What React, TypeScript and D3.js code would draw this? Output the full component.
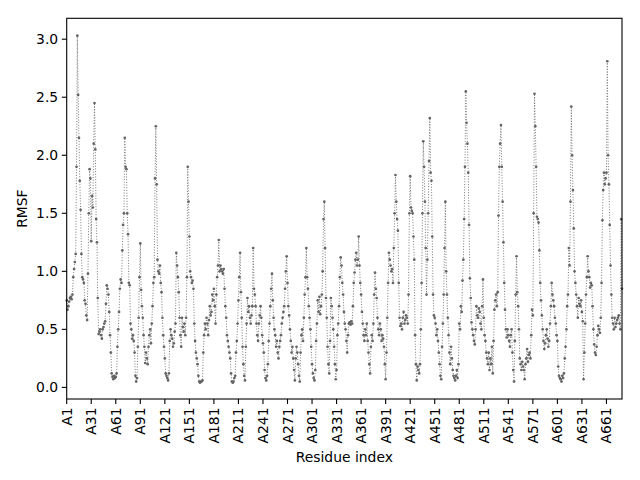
import React, { useRef, useEffect } from 'react';
import * as d3 from 'd3';

// RMSF per residue (A1 .. A680)
const rmsf: number[] = [
  0.75, 0.67, 0.70, 0.74, 0.77, 0.78, 0.76, 0.80, 0.95, 1.02, 1.08, 1.15, 1.90,
  3.03, 2.52, 2.15, 1.78, 1.53, 1.15, 0.95, 0.93, 0.90, 0.75, 0.72, 0.62, 0.58,
  0.98, 1.50, 1.88, 1.80, 1.26, 1.65, 1.55, 2.10, 2.45, 2.05, 1.45, 1.25, 0.77,
  0.46, 0.48, 0.50, 0.45, 0.42, 0.50, 0.52, 0.55, 0.57, 0.72, 0.88,
  0.85, 0.80, 0.65, 0.45, 0.30, 0.12, 0.09, 0.07, 0.10, 0.08, 0.09, 0.12,
  0.35, 0.50, 0.65, 0.85, 0.93, 0.90, 1.18, 1.40, 1.50, 2.15, 1.90, 1.88, 1.50, 1.32,
  0.90, 0.88, 0.55, 0.50, 0.42, 0.45, 0.40, 0.30, 0.10,
  0.05, 0.08, 0.35, 0.60, 0.95, 1.24, 0.84, 0.70, 0.60, 0.45, 0.35, 0.21, 0.30, 0.25, 0.20,
  0.35, 0.45, 0.50, 0.38, 0.55, 0.70, 0.90, 0.95, 1.80,
  2.25,
  1.75, 1.10, 1.00, 0.98, 1.05, 0.90, 0.82, 0.60,
  0.45, 0.35, 0.25, 0.12, 0.10, 0.08, 0.06, 0.12,
  0.40, 0.50, 0.45, 0.42, 0.35, 0.38, 0.48, 0.55,
  1.16, 1.05, 0.95, 0.82, 0.60, 0.45, 0.35,
  0.60, 0.52, 0.48, 0.55, 0.45, 0.60, 0.95,
  1.90,
  1.60, 1.30, 1.00, 0.95, 0.90, 0.92, 0.85,
  0.55, 0.40, 0.30, 0.25, 0.20, 0.10,
  0.05, 0.04, 0.05, 0.05, 0.06,
  0.30, 0.45, 0.55, 0.50, 0.60, 0.55, 0.45,
  0.58, 0.70, 0.62, 0.65, 0.80, 0.75, 0.85, 0.70, 0.55,
  0.80, 0.95, 1.05,
  1.27,
  1.00, 1.05, 1.02, 1.00, 0.98, 1.02, 0.85, 0.70,
  0.60, 0.45, 0.40, 0.35, 0.30, 0.25,
  0.12, 0.05, 0.04, 0.05, 0.08,
  0.10, 0.30, 0.40, 0.55, 0.75, 0.95,
  1.16,
  0.82, 0.60, 0.35, 0.20, 0.10, 0.06,
  0.35, 0.55, 0.77, 0.65, 0.70, 0.60, 0.55, 0.62, 0.70,
  1.20,
  0.85, 0.80, 0.70, 0.55, 0.45, 0.40, 0.55,
  0.62, 0.70, 0.60, 0.45, 0.38,
  0.30, 0.15, 0.08, 0.06, 0.10, 0.20,
  0.40, 0.55, 0.70, 0.85,
  0.98,
  0.75, 0.60, 0.50, 0.45, 0.35, 0.40, 0.30, 0.25, 0.35, 0.40, 0.45, 0.55,
  0.60, 0.65, 0.70, 0.85, 1.00,
  1.13,
  0.90, 0.70, 0.62, 0.50, 0.40, 0.30, 0.35, 0.25, 0.15,
  0.06,
  0.25, 0.35, 0.30, 0.20, 0.10, 0.05, 0.30, 0.45, 0.50, 0.40, 0.60, 0.80, 0.95,
  1.20,
  0.95, 0.85, 0.70, 0.60, 0.50, 0.35, 0.20,
  0.12, 0.08, 0.06, 0.15,
  0.40, 0.55, 0.75, 0.65, 0.78, 0.63, 0.70, 0.80, 1.00, 1.45,
  1.60,
  1.20, 0.77, 0.60, 0.35, 0.20, 0.12, 0.40,
  0.77, 0.70, 0.60, 0.50, 0.35, 0.20, 0.07, 0.15, 0.45, 0.55, 0.70, 0.95,
  1.12,
  1.05, 0.90, 0.80, 0.65, 0.55, 0.50,
  0.40, 0.30, 0.45, 0.55, 0.56, 0.54, 0.57, 0.55, 0.70,
  0.90, 0.99, 1.10, 1.16, 1.05, 1.10,
  1.30,
  1.05, 0.90, 0.80, 0.65, 0.55, 0.45, 0.40, 0.50, 0.45,
  0.55, 0.40, 0.30, 0.20, 0.12,
  0.35, 0.45, 0.40, 0.55, 0.80,
  0.99,
  0.85, 0.77, 0.60, 0.50, 0.45, 0.55,
  0.50, 0.40, 0.45, 0.42, 0.35, 0.20, 0.07,
  0.30, 0.60, 0.90,
  1.16,
  1.10, 1.05, 1.00, 1.02, 0.90, 1.20, 1.50,
  1.83,
  1.60, 1.45, 1.35, 0.90, 0.60,
  0.53, 0.55, 0.50,
  0.60, 0.65, 0.55, 0.58, 0.62, 0.60, 0.55, 0.80, 1.50,
  1.82,
  1.55, 1.52, 1.50, 1.30, 1.10,
  0.45, 0.20, 0.06, 0.18, 0.15, 0.12, 0.20, 0.50, 0.90, 1.50,
  2.12,
  1.90, 1.60, 1.20, 0.80, 1.10, 1.50, 1.95,
  2.32,
  1.85, 1.78, 1.30, 0.80, 0.62,
  0.60, 0.55, 0.45, 0.50, 0.40, 0.30, 0.20, 0.10, 0.07, 0.35,
  0.55, 0.80, 1.20,
  1.60,
  1.00, 0.80, 0.60, 0.45, 0.30, 0.20,
  0.35, 0.25, 0.15, 0.10, 0.08, 0.06, 0.10, 0.15, 0.08, 0.20,
  0.55, 0.50, 0.70, 0.65, 0.92, 1.10, 1.45, 1.90,
  2.55,
  2.28, 2.10, 1.85, 1.40, 0.94, 0.77,
  0.56, 0.50, 0.45, 0.40, 0.37, 0.50,
  0.70, 0.62, 0.60, 0.68, 0.65, 0.55, 0.50, 0.70,
  0.93,
  0.60, 0.45, 0.40, 0.30, 0.25, 0.20, 0.30, 0.15, 0.25, 0.20, 0.35, 0.12, 0.40,
  0.67, 0.75, 0.80, 0.70, 0.82, 1.48, 1.90, 2.10,
  2.26,
  1.90, 1.60, 1.25, 0.90, 0.67,
  0.50, 0.43, 0.50, 0.45, 0.40, 0.35, 0.45, 0.50, 0.30, 0.15,
  0.05,
  0.40, 0.80,
  1.13,
  0.82, 0.70, 0.50, 0.25, 0.20, 0.15, 0.22, 0.18, 0.15,
  0.07,
  0.20, 0.25, 0.33, 0.22, 0.28, 0.30, 0.25, 0.45,
  0.67, 0.62, 1.50,
  2.53,
  2.25, 1.90, 1.47, 1.45, 1.42, 1.18, 0.90, 0.75,
  0.62, 0.50, 0.40, 0.33, 0.38, 0.45, 0.50, 0.42, 0.35, 0.40, 0.55, 0.70,
  0.90, 0.80, 0.75, 0.70, 0.60, 0.55,
  0.45, 0.40, 0.18, 0.10, 0.08, 0.07, 0.05, 0.10, 0.08, 0.12, 0.25, 0.35, 0.50,
  0.70, 0.80, 1.20, 1.05, 1.60,
  2.42,
  2.00, 1.70, 1.37, 1.00, 0.90, 0.80, 0.70,
  0.60, 0.77, 0.72, 0.70, 0.75, 0.65, 0.57,
  0.07,
  0.30, 0.55, 0.80, 0.95,
  1.13,
  1.00, 0.95, 0.86, 0.90, 0.88, 0.70, 0.50,
  0.37, 0.30, 0.28, 0.35, 0.45, 0.53, 0.50, 0.47,
  0.60, 0.90, 1.44, 1.70, 1.85, 1.75, 1.80, 1.85,
  2.81,
  2.00, 1.75, 1.40, 1.05, 0.80, 0.60,
  0.55, 0.50, 0.60, 0.52, 0.55, 0.58, 0.60, 0.62, 0.55, 0.50,
  1.45, 0.85,
];

const residues = rmsf.map((_, i) => `A${i + 1}`);

const xTickLabels = [
  'A1', 'A31', 'A61', 'A91', 'A121', 'A151', 'A181', 'A211', 'A241', 'A271', 'A301', 'A331',
  'A361', 'A391', 'A421', 'A451', 'A481', 'A511', 'A541', 'A571', 'A601', 'A631', 'A661',
];
const yTicks = [0, 0.5, 1, 1.5, 2, 2.5, 3];

const FONT = 'DejaVu Sans, sans-serif';
const COLOR = '#646464';

const RmsfChart: React.FC = () => {
  const ref = useRef<SVGSVGElement | null>(null);
  useEffect(() => {
    if (!ref.current) return;
    const svg = d3.select(ref.current);
    svg.selectAll('*').remove();

    const left = 66.7, right = 622, top = 18.3, bottom = 399;
    const x = d3.scaleLinear().domain([0, rmsf.length - 1]).range([left, right]);
    const y = d3.scaleLinear().domain([-0.1, 3.18]).range([bottom, top]);

    svg.append('rect').attr('width', 640).attr('height', 480).attr('fill', '#fff');

    const data = rmsf.map((v, i) => ({ i, v, name: residues[i] }));

    // dotted connecting line
    const line = d3.line<{ i: number; v: number }>().x((d) => x(d.i)).y((d) => y(d.v));
    svg
      .append('path')
      .attr('d', line(data) as string)
      .attr('fill', 'none')
      .attr('stroke', COLOR)
      .attr('stroke-width', 1)
      .attr('stroke-opacity', 0.85)
      .attr('stroke-dasharray', '1,1.7');

    // point markers
    svg
      .append('g')
      .selectAll('circle')
      .data(data)
      .enter()
      .append('circle')
      .attr('cx', (d) => x(d.i))
      .attr('cy', (d) => y(d.v))
      .attr('r', 1.35)
      .attr('fill', COLOR);

    // frame
    svg
      .append('rect')
      .attr('x', left)
      .attr('y', top)
      .attr('width', right - left)
      .attr('height', bottom - top)
      .attr('fill', 'none')
      .attr('stroke', '#000')
      .attr('stroke-width', 1.1);

    // y ticks
    const yg = svg.append('g');
    yTicks.forEach((t) => {
      yg.append('line')
        .attr('x1', left - 4.9).attr('x2', left)
        .attr('y1', y(t)).attr('y2', y(t))
        .attr('stroke', '#000').attr('stroke-width', 1.1);
      yg.append('text')
        .attr('x', left - 8.5)
        .attr('y', y(t))
        .attr('dy', '0.36em')
        .attr('text-anchor', 'end')
        .attr('font-family', FONT)
        .attr('font-size', 13.9)
        .text(t.toFixed(1));
    });

    // x ticks
    const xg = svg.append('g');
    xTickLabels.forEach((lab) => {
      const idx = residues.indexOf(lab);
      const px = x(idx);
      xg.append('line')
        .attr('x1', px).attr('x2', px)
        .attr('y1', bottom).attr('y2', bottom + 4.9)
        .attr('stroke', '#000').attr('stroke-width', 1.1);
      xg.append('text')
        .attr('transform', `translate(${px},${bottom + 8.5}) rotate(-90)`)
        .attr('dy', '0.36em')
        .attr('text-anchor', 'end')
        .attr('font-family', FONT)
        .attr('font-size', 13.9)
        .text(lab);
    });

    svg.append('text')
      .attr('x', (left + right) / 2)
      .attr('y', 462)
      .attr('text-anchor', 'middle')
      .attr('font-family', FONT)
      .attr('font-size', 13.9)
      .text('Residue index');

    svg.append('text')
      .attr('transform', `translate(26.5,${(top + bottom) / 2}) rotate(-90)`)
      .attr('text-anchor', 'middle')
      .attr('font-family', FONT)
      .attr('font-size', 13.9)
      .text('RMSF');
  }, []);
  return (
    <svg
      ref={ref}
      width={640}
      height={480}
      style={{ position: 'absolute', left: 0, top: 0 }}
    />
  );
};

export default function App() {
  return <RmsfChart />;
}
